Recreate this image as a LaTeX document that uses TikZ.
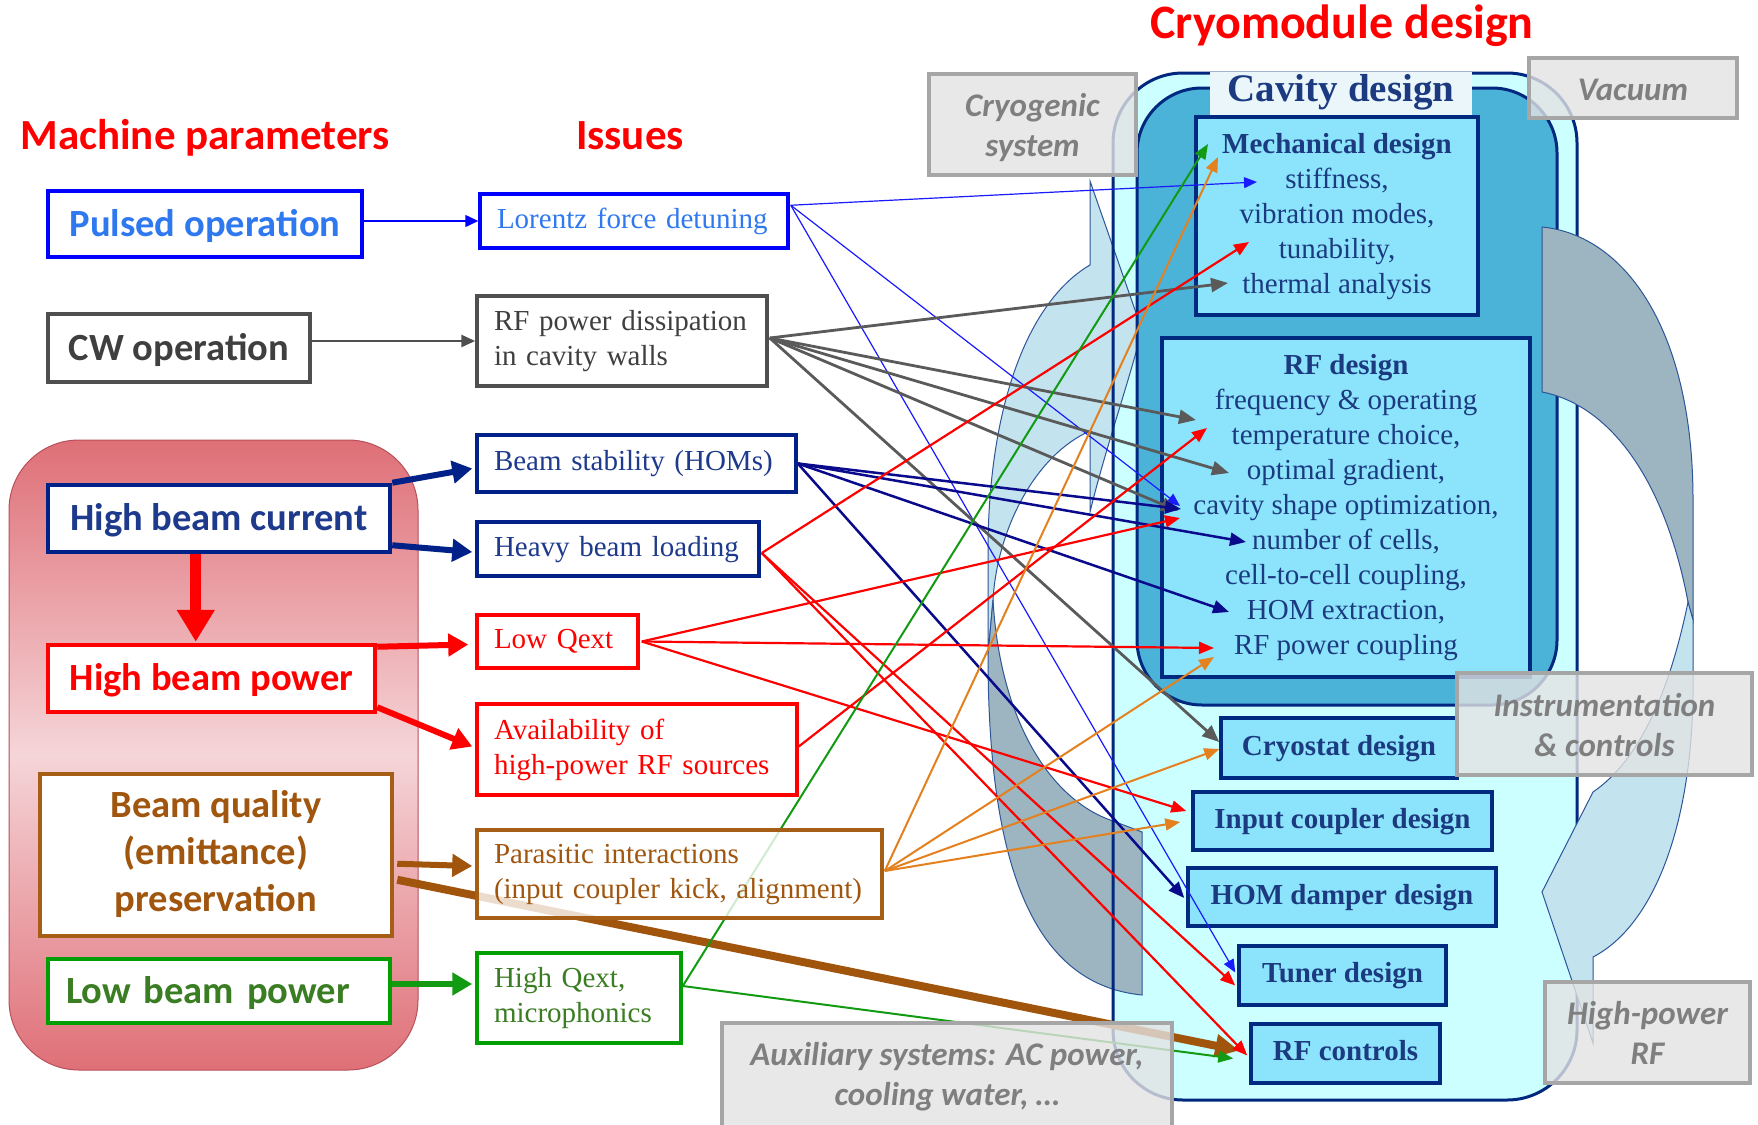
\documentclass[tikz,border=0pt]{standalone}
\usepackage{fontspec}
\setmainfont{Liberation Serif}
\newfontfamily\cali{Carlito}
\usetikzlibrary{arrows.meta,calc}
\pgfdeclarelayer{back}
\pgfdeclarelayer{conn}
\pgfsetlayers{back,conn,main}
\definecolor{blueB}{HTML}{0000FF}
\definecolor{blueT}{HTML}{2E78F0}
\definecolor{grayB}{HTML}{4F4F4F}
\definecolor{grayT}{HTML}{3F3F3F}
\definecolor{navyB}{HTML}{002288}
\definecolor{navyT}{HTML}{1E3A8C}
\definecolor{brownB}{HTML}{A65E16}
\definecolor{brownT}{HTML}{A0560F}
\definecolor{greenB}{HTML}{009E00}
\definecolor{greenT}{HTML}{3A7D23}
\definecolor{blueA}{HTML}{1A1AFF}
\definecolor{grayA}{HTML}{5A5A5A}
\definecolor{navyA}{HTML}{0A0A8C}
\definecolor{orangeA}{HTML}{E5801E}
\definecolor{greenA}{HTML}{129A12}
\definecolor{brownA}{HTML}{A0540C}
\definecolor{cyanO}{HTML}{CCFFFF}
\definecolor{innerF}{HTML}{4BB3D8}
\definecolor{dFill}{HTML}{8CE4FC}
\definecolor{dBorder}{HTML}{002A80}
\definecolor{dText}{HTML}{1B3A80}
\definecolor{cavF}{HTML}{EBF6FB}
\definecolor{decoL}{HTML}{C3E3EF}
\definecolor{decoG}{HTML}{9CB5C1}
\definecolor{decoS}{HTML}{2E5597}
\definecolor{gFill}{HTML}{E3E3E3}
\definecolor{gBorder}{HTML}{A6A6A6}
\definecolor{gText}{HTML}{7F7F7F}
\definecolor{rbEdge}{HTML}{DF6F77}
\definecolor{rbMid}{HTML}{F5D5D8}
\definecolor{rbLine}{HTML}{B8505A}
\definecolor{navyO}{HTML}{00287F}
\newcommand\fTimes{\fontsize{29pt}{35pt}\selectfont}
\newcommand\fCal{\cali\bfseries\fontsize{38.5pt}{47pt}\selectfont}
\newcommand\fGray{\cali\bfseries\itshape\fontsize{33pt}{40pt}\selectfont}
\newcommand\fHead{\cali\bfseries\fontsize{43pt}{52pt}\selectfont}
\newcommand\fCryo{\cali\bfseries\fontsize{48pt}{58pt}\selectfont}
\newcommand\fCav{\bfseries\fontsize{39pt}{47pt}\selectfont}
\newcommand\cst{\rule[-11pt]{0pt}{46pt}}
\newcommand\cavst{\rule[-14pt]{0pt}{39pt}}
\newcommand\gtop{\rule{0pt}{32pt}}
\newcommand\gbot{\rule[-8pt]{0pt}{8pt}}
\newcommand\gone{\rule[-8pt]{0pt}{40pt}}
\begin{document}
\begin{tikzpicture}[x=1pt,y=-1pt,
  lbox/.style={line width=4.5pt, fill=white, inner sep=0pt, align=center, font=\fCal},
  ibox/.style={line width=3.5pt, fill=white, fill opacity=0.8, text opacity=1, inner ysep=0pt, inner xsep=17pt, align=left, font=\fTimes},
  dbox/.style={draw=dBorder, fill=dFill, line width=3.5pt, inner sep=0pt, align=center, text=dText, font=\fTimes\bfseries},
  gbox/.style={draw=gBorder, line width=4.5pt, fill=gFill, fill opacity=0.8, text opacity=1, text=gText, inner sep=0pt, align=center, font=\fGray},
  deco/.style={draw=decoS, line width=1pt},
  aBlue/.style={draw=blueB, line width=1.5pt, -{Triangle[length=13pt,width=12pt]}},
  aGray/.style={draw=grayB, line width=2.5pt, -{Triangle[length=14pt,width=12pt]}},
  aNavy/.style={draw=navyB, line width=6pt, -{Triangle[length=20pt,width=22pt]}},
  aRedV/.style={draw=red, line width=11pt, -{Triangle[length=32pt,width=36pt]}},
  aRed/.style={draw=red, line width=6pt, -{Triangle[length=20pt,width=22pt]}},
  aBrown/.style={draw=brownA, line width=6pt, -{Triangle[length=20pt,width=22pt]}},
  aGreen/.style={draw=greenA, line width=6pt, -{Triangle[length=20pt,width=22pt]}},
  aBrownL/.style={draw=brownA, line width=8pt, -{Triangle[length=24pt,width=22pt]}},
  cBlue/.style={draw=blueA, line width=1.2pt, -{Triangle[length=13pt,width=11pt]}},
  cGray/.style={draw=grayA, line width=2.8pt, -{Triangle[length=17pt,width=14pt]}},
  cNavy/.style={draw=navyA, line width=2.5pt, -{Triangle[length=16pt,width=13pt]}},
  cRed/.style={draw=red, line width=2.2pt, -{Triangle[length=15pt,width=12pt]}},
  cOr/.style={draw=orangeA, line width=2pt, -{Triangle[length=15pt,width=12pt]}},
  cGr/.style={draw=greenA, line width=2pt, -{Triangle[length=15pt,width=12pt]}}
]
\useasboundingbox (0,0) rectangle (1758,1124);
\begin{pgfonlayer}{back}
\fill[white] (0,0) rectangle (1758,1124);
\draw[draw=rbLine, line width=1pt, rounded corners=70pt, top color=rbEdge, bottom color=rbEdge, middle color=rbMid] (9,440) rectangle (418,1070);
% cryomodule outer fill
\fill[cyanO, rounded corners=70pt] (1113,73) rectangle (1577,1100);
% left decorative curved arrow
\filldraw[deco, fill=decoL] (1090,181) -- (1142,330) .. controls (1128,385) and (1105,450) .. (1090,512) -- (1090,431) .. controls (1035,455) and (997,530) .. (993,600) -- (988,655) -- (988,543) .. controls (990,400) and (1030,300) .. (1090,265) -- cycle;
\filldraw[deco, fill=decoG] (993,600) .. controls (1000,720) and (1050,800) .. (1113,821) -- (1142,832) -- (1142,995) .. controls (1040,985) and (988,880) .. (988,655) -- cycle;
\draw[navyO, line width=3pt, rounded corners=70pt] (1113,73) rectangle (1577,1100);
\filldraw[fill=innerF, draw=navyO, line width=3pt, rounded corners=65pt] (1137,88) rectangle (1557,705);
% right decorative curved arrow
\filldraw[deco, fill=decoG] (1542,227) .. controls (1625,235) and (1693,330) .. (1693,500) -- (1693,620) -- (1688,602) .. controls (1665,480) and (1610,405) .. (1542,392) -- cycle;
\filldraw[deco, fill=decoL] (1688,602) .. controls (1670,690) and (1640,760) .. (1593,792) -- (1542,892) -- (1593,1043) -- (1593,957) .. controls (1655,925) and (1695,820) .. (1693,674) -- (1693,620) -- cycle;
% cavity design label
\node[fill=cavF, minimum width=262pt, minimum height=45pt, inner sep=0pt, font=\fCav, text=dText] (cavlab) at (1341,94.5) {\cavst Cavity design};
% design boxes
\node[dbox, font=\fTimes, minimum width=282pt, minimum height=198pt] (mech) at (1337,216) {\strut\textbf{Mechanical design}\\stiffness,\\vibration modes,\\tunability,\\thermal analysis\strut};
\node[dbox, font=\fTimes, minimum width=368pt, minimum height=339pt] (rfdes) at (1346,507.5) {\strut\textbf{RF design}\\frequency \& operating\\temperature choice,\\optimal gradient,\\cavity shape optimization,\\number of cells,\\cell-to-cell coupling,\\HOM extraction,\\RF power coupling\strut};
\node[dbox, minimum width=236pt, minimum height=60pt] (cry) at (1339,748) {\strut Cryostat design};
\node[dbox, minimum width=299pt, minimum height=58pt] (inc) at (1342.5,821) {\strut Input coupler design};
\node[dbox, minimum width=308pt, minimum height=58pt] (homd) at (1342,897) {\strut HOM damper design};
\node[dbox, minimum width=207pt, minimum height=59pt] (tun) at (1342.5,975.5) {\strut Tuner design};
\node[dbox, minimum width=189pt, minimum height=59pt] (rfc) at (1345.5,1053.5) {\strut RF controls};
\end{pgfonlayer}
% headings
\node[font=\fHead, text=red, anchor=base] (hMach) at (205,149) {Machine parameters};
\node[font=\fHead, text=red, anchor=base] (hIss) at (630,149) {Issues};
\node[font=\fCryo, text=red, anchor=base] (hCryo) at (1342,38) {Cryomodule design};
% machine parameter boxes
\node[lbox, draw=blueB, text=blueT, minimum width=314pt, minimum height=66pt] (pul) at (205,224) {\cst Pulsed operation};
\node[lbox, draw=grayB, text=grayT, minimum width=262pt, minimum height=68pt] (cw) at (179,348) {\cst CW operation};
\node[lbox, draw=navyB, text=navyT, minimum width=342pt, minimum height=67pt] (hbc) at (219,518.5) {\cst High beam current};
\node[lbox, draw=red, text=red, minimum width=327pt, minimum height=67pt] (hbp) at (211.5,678.5) {\cst High beam power};
\node[lbox, draw=brownB, text=brownT, minimum width=352pt, minimum height=162pt] (bq) at (216,855) {\strut Beam quality\\(emittance)\\preservation\strut};
\node[lbox, draw=greenB, text=greenT, align=left, text width=306pt, inner xsep=18pt, minimum height=64pt] (lbp) at (219,991) {\cst Low beam power};
% issue boxes
\node[ibox, draw=blueB, text=blueT, text width=274pt, minimum height=54pt] (lfd) at (634,221) {\strut Lorentz force detuning};
\node[ibox, draw=grayB, text=grayT, text width=256pt, minimum height=90pt] (rfd) at (622,341) {\strut RF power dissipation\\in cavity walls\strut};
\node[ibox, draw=navyB, text=navyT, text width=285pt, minimum height=57pt] (bs) at (636.5,463.5) {\strut Beam stability (HOMs)};
\node[ibox, draw=navyB, text=navyT, text width=248pt, minimum height=54pt] (hbl) at (618,549) {\strut Heavy beam loading};
\node[ibox, draw=red, text=red, text width=127pt, minimum height=53pt] (lq) at (557.5,641.5) {\strut Low Qext};
\node[ibox, draw=red, text=red, text width=286pt, minimum height=91pt] (av) at (637,749.5) {\strut Availability of\\high-power RF sources\strut};
\node[ibox, draw=brownB, text=brownT, text width=371pt, minimum height=88pt] (par) at (679.5,874) {\strut Parasitic interactions\\(input coupler kick, alignment)\strut};
\node[ibox, draw=greenB, text=greenT, text width=170pt, minimum height=90pt] (hq) at (579,998) {\strut High Qext,\\microphonics\strut};
% surrounding systems
\node[gbox, minimum width=207pt, minimum height=101pt] (cryo) at (1032.5,124.5) {\gtop Cryogenic\\system\gbot};
\node[gbox, minimum width=208pt, minimum height=60pt] (vac) at (1633,88) {\gone Vacuum};
\node[gbox, minimum width=295pt, minimum height=102pt] (inst) at (1604.5,724) {\gtop Instrumentation\\\& controls\gbot};
\node[gbox, minimum width=205pt, minimum height=101pt] (hprf) at (1647.5,1032.5) {\gtop High-power\\RF\gbot};
\node[gbox, minimum width=450pt, minimum height=108pt] (aux) at (947,1077) {\strut Auxiliary systems: AC power,\\cooling water, \ldots\strut};
% connectors
\begin{pgfonlayer}{conn}
\coordinate (tStiff) at (1257,182);
\coordinate (tMechG) at (1208,144);
\coordinate (tMechO) at (1218,157);
\coordinate (tTun) at (1249,242);
\coordinate (tTherm) at (1228,283);
\coordinate (tFreqG) at (1196,420);
\coordinate (tFreqR) at (1207,428);
\coordinate (tOpt) at (1229,473);
\coordinate (tCavB) at (1180,506);
\coordinate (tCavN) at (1181,509);
\coordinate (tCavG) at (1178,511);
\coordinate (tCavR) at (1180,518);
\coordinate (tCells) at (1246,542);
\coordinate (tHOMx) at (1229,612);
\coordinate (tRFpR) at (1214,648);
\coordinate (tRFpO) at (1214,657);
\coordinate (tCryG) at ($(cry.west)+(0,-6)$);
\coordinate (tCryO) at ($(cry.west)+(0,1)$);
\coordinate (tInR) at ($(inc.west)+(-5,-10)$);
\coordinate (tInO) at ($(inc.west)+(-11,1)$);
\coordinate (tHOMd) at ($(homd.west)+(-2,1)$);
\coordinate (tTunB) at ($(tun.west)+(-2,-3)$);
\coordinate (tTunR) at ($(tun.west)+(-2,10)$);
\coordinate (tRFcR) at ($(rfc.west)+(-2,2)$);
\coordinate (tRFcB) at ($(rfc.west)+(-10,-3)$);
\coordinate (tRFcG) at ($(rfc.west)+(-16,5)$);
\coordinate (lfdS) at ($(lfd.north east)+(1,13)$);
\coordinate (rfdS) at ($(rfd.east)+(1,-3)$);
\coordinate (bsS) at (bs.east);
\coordinate (hblS) at ($(hbl.east)+(1,4)$);
\coordinate (lqS) at ($(lq.east)+(2,0)$);
\coordinate (avS) at ($(av.east)+(0,-3)$);
\coordinate (parS) at ($(par.east)+(1,-3)$);
\coordinate (hqS) at ($(hq.east)+(0,-12)$);
% machine parameters -> issues
\draw[aBlue] (pul.east |- lfd.west) -- (lfd.west);
\draw[aGray] (cw.east |- rfd.west) -- (rfd.west);
\draw[aNavy] (hbc.north east) -- ($(bs.west)+(-3,5)$);
\draw[aNavy] ($(hbc.south east)+(0,-9)$) -- ($(hbl.west)+(-3,3)$);
\draw[aRedV] ($(hbc.south west)+(150,0)$) -- ($(hbp.north west)+(150,-1)$);
\draw[aRed] ($(hbp.north east)+(0,4)$) -- ($(lq.west)+(-7,3)$);
\draw[aRed] ($(hbp.south east)+(0,-7)$) -- ($(av.west)+(-3,-3)$);
\draw[aBrown] ($(bq.north east)+(3,92)$) -- ($(par.west)+(-3,-8)$);
\draw[aGreen] ($(lbp.east)+(0,-7)$) -- ($(hq.west)+(-3,-14)$);
\draw[aBrownL] ($(bq.north east)+(3,108)$) -- (tRFcB);
% issues -> design
\draw[cBlue] (lfdS) -- (tStiff);
\draw[cBlue] (lfdS) -- (tCavB);
\draw[cBlue] (lfdS) -- (tTunB);
\draw[cGray] (rfdS) -- (tTherm);
\draw[cGray] (rfdS) -- (tFreqG);
\draw[cGray] (rfdS) -- (tOpt);
\draw[cGray] (rfdS) -- (tCavG);
\draw[cGray] (rfdS) -- (tCryG);
\draw[cNavy] (bsS) -- (tCavN);
\draw[cNavy] (bsS) -- (tCells);
\draw[cNavy] (bsS) -- (tHOMx);
\draw[cNavy] (bsS) -- (tHOMd);
\draw[cRed] (hblS) -- (tTun);
\draw[cRed] (hblS) -- (tTunR);
\draw[cRed] (hblS) -- (tRFcR);
\draw[cRed] (lqS) -- (tCavR);
\draw[cRed] (lqS) -- (tRFpR);
\draw[cRed] (lqS) -- (tInR);
\draw[cRed] (avS) -- (tFreqR);
\draw[cOr] (parS) -- (tMechO);
\draw[cOr] (parS) -- (tRFpO);
\draw[cOr] (parS) -- (tCryO);
\draw[cOr] (parS) -- (tInO);
\draw[cGr] (hqS) -- (tMechG);
\draw[cGr] (hqS) -- (tRFcG);
\end{pgfonlayer}
\end{tikzpicture}
\end{document}
